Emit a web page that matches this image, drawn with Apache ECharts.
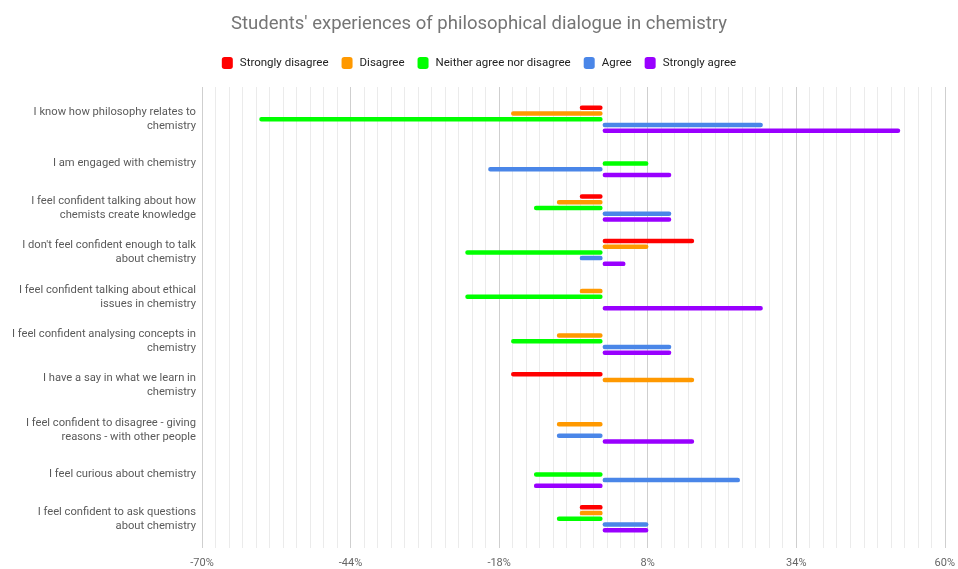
<!DOCTYPE html>
<html><head><meta charset="utf-8">
<script src="https://cdn.jsdelivr.net/npm/echarts@6/dist/echarts.min.js"></script>
<style>html,body{margin:0;padding:0;background:#fff}#c{width:958px;height:569px}</style>
</head><body><div id="c"></div>
<script>
const categories = [
  'I know how philosophy relates to\nchemistry',
  'I am engaged with chemistry',
  'I feel confident talking about how\nchemists create knowledge',
  "I don't feel confident enough to talk\nabout chemistry",
  'I feel confident talking about ethical\nissues in chemistry',
  'I feel confident analysing concepts in\nchemistry',
  'I have a say in what we learn in\nchemistry',
  'I feel confident to disagree - giving\nreasons - with other people',
  'I feel curious about chemistry',
  'I feel confident to ask questions\nabout chemistry'
];
const seriesNames = ['Strongly disagree','Disagree','Neither agree nor disagree','Agree','Strongly agree'];
const seriesColors = ['#ff0000','#ff9900','#00ff00','#4a86e8','#9900ff'];
const stronglyDisagree = [-4, null, -4, 16, null, null, -16, null, null, -4];
const disagree         = [-16, null, -8, 8, -4, -8, 16, -8, null, -4];
const neither          = [-60, 8, -12, -24, -24, -16, null, null, -12, -8];
const agree            = [28, -20, 12, -4, null, 12, null, -8, 24, 8];
const stronglyAgree    = [52, 12, 12, 4, 28, 12, null, 16, -12, 8];
const xMin = -70, xMax = 60, xStep = 26;

const seriesData = [stronglyDisagree, disagree, neither, agree, stronglyAgree];
const font = 'Roboto, "Noto Sans", sans-serif';

const chart = echarts.init(document.getElementById('c'));
chart.setOption({
  animation: false,
  textStyle: { fontFamily: font },
  title: {
    text: "Students' experiences of philosophical dialogue in chemistry",
    left: 'center', top: 10,
    textStyle: { fontSize: 18.5, fontWeight: 'normal', color: '#757575', fontFamily: font }
  },
  legend: {
    top: 52, left: 'center',
    icon: 'roundRect', itemWidth: 11, itemHeight: 12, itemGap: 13,
    textStyle: { fontSize: 11.5, color: '#222', fontFamily: font, padding: [0, 0, 0, 2] },
    data: seriesNames
  },
  grid: [
    { left: 202, right: 12, top: 87, height: 461 },
    { left: 202, right: 12, top: 97, height: 444 }
  ],
  xAxis: [
    {
      gridIndex: 0, type: 'value', min: xMin, max: xMax, interval: xStep,
      axisLine: { show: false }, axisTick: { show: false },
      axisLabel: { formatter: '{value}%', color: '#666', fontSize: 11, margin: 10, fontFamily: font },
      splitLine: { show: true, lineStyle: { color: '#cfcfcf', width: 1 } },
      minorTick: { show: false, splitNumber: 11 },
      minorSplitLine: { show: true, lineStyle: { color: '#ebebeb', width: 1 } }
    },
    {
      gridIndex: 1, type: 'value', min: xMin, max: xMax, interval: xStep, show: false,
      splitLine: { show: false }
    }
  ],
  yAxis: [
    { gridIndex: 0, type: 'value', show: false, splitLine: { show: false } },
    {
      gridIndex: 1, type: 'category', data: categories, inverse: true,
      axisLine: { show: false }, axisTick: { show: false },
      axisLabel: { color: '#5a5a5a', fontSize: 11.2, lineHeight: 14, margin: 6, align: 'right',
                   padding: [6, 0, 0, 0], fontFamily: font }
    }
  ],
  series: seriesNames.map((name, i) => ({
    name, type: 'bar', xAxisIndex: 1, yAxisIndex: 1,
    data: seriesData[i],
    barWidth: 4.5, barGap: '27%',
    itemStyle: { color: seriesColors[i], borderRadius: 2.2 }
  }))
});
</script>
</body></html>
